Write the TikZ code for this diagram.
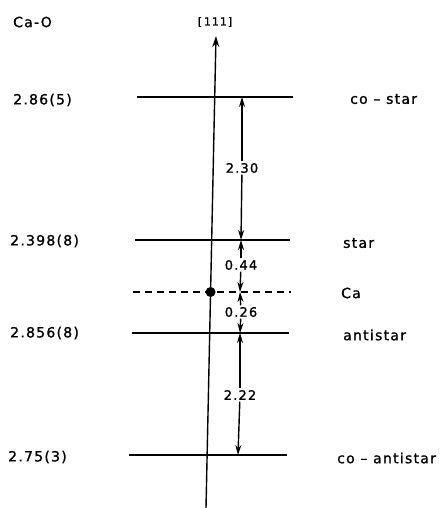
\documentclass[tikz,border=0pt]{standalone}
\usepackage{fontspec}
\usetikzlibrary{calc,arrows.meta}
\newfontfamily\lblfont{DejaVu Sans}[LetterSpace=9,FakeBold=1.2]

\begin{document}
\begin{tikzpicture}[
  x=1pt,y=-1pt,font=\lblfont\fontsize{14}{16}\selectfont,
  level/.style={line width=1.5pt},
  dimline/.style={-{Stealth[length=10pt,width=6pt]},line width=1.4pt},
  value/.style={font=\lblfont\fontsize{13}{15}\selectfont,inner sep=1.5pt},
  tag/.style={anchor=west,inner sep=0pt},
]
\useasboundingbox (0,0) rectangle (440,508);

\coordinate (axbot) at (206,508);
\coordinate (axtop) at (216,36);
\draw[-{Stealth[length=11pt,width=7pt]},line width=1.4pt] (axbot) -- (axtop);
\node[font=\lblfont\fontsize{11}{13}\selectfont] (dir) at (215,22) {[\,111]};

\coordinate (costarL) at (137,97);
\coordinate (costarR) at (293,97);
\coordinate (starL) at (135,240);
\coordinate (starR) at (290,240);
\coordinate (caL) at (133,292);
\coordinate (caR) at (291,292);
\coordinate (antiL) at (132,333);
\coordinate (antiR) at (289,333);
\coordinate (coantiL) at (129,455);
\coordinate (coantiR) at (287,455);
\draw[level] (costarL) -- (costarR);
\draw[level] (starL) -- (starR);
\draw[level,dash pattern=on 7pt off 5pt] (caL) -- (caR);
\draw[level] (antiL) -- (antiR);
\draw[level] (coantiL) -- (coantiR);
\fill ($(axbot)!0.4576!(axtop)$) circle (5);

\coordinate (costarD) at (242,97);
\coordinate (starD) at (241,240);
\coordinate (caD) at (240,292);
\coordinate (antiD) at (240,333);
\coordinate (coantiD) at (238,455);
\node[value] (d230) at (242,168) {2.30};
\node[value] (d044) at (241,265) {0.44};
\node[value] (d026) at (241,312) {0.26};
\node[value] (d222) at (240,395) {2.22};
\draw[dimline] (d230) -- (costarD);
\draw[dimline] (d230) -- (starD);
\draw[dimline] (d044) -- (starD);
\draw[dimline] (d044) -- (caD);
\draw[dimline] (d026) -- (caD);
\draw[dimline] (d026) -- (antiD);
\draw[dimline] (d222) -- (antiD);
\draw[dimline] (d222) -- (coantiD);

% bond lengths
\node[tag] (head) at (13,22) {Ca-O};
\node[tag] (bcostar) at (13,100) {2.86(5)};
\node[tag] (bstar) at (10,241) {2.398(8)};
\node[tag] (banti) at (10,333) {2.856(8)};
\node[tag] (bcoanti) at (8,457) {2.75(3)};

% level names
\node[tag] (ncostar) at (350,99) {co – star};
\node[tag] (nstar) at (343,243) {star};
\node[tag] (nca) at (341,293) {Ca};
\node[tag] (nanti) at (343,335) {antistar};
\node[tag] (ncoanti) at (337,458) {co – antistar};
\end{tikzpicture}
\end{document}
